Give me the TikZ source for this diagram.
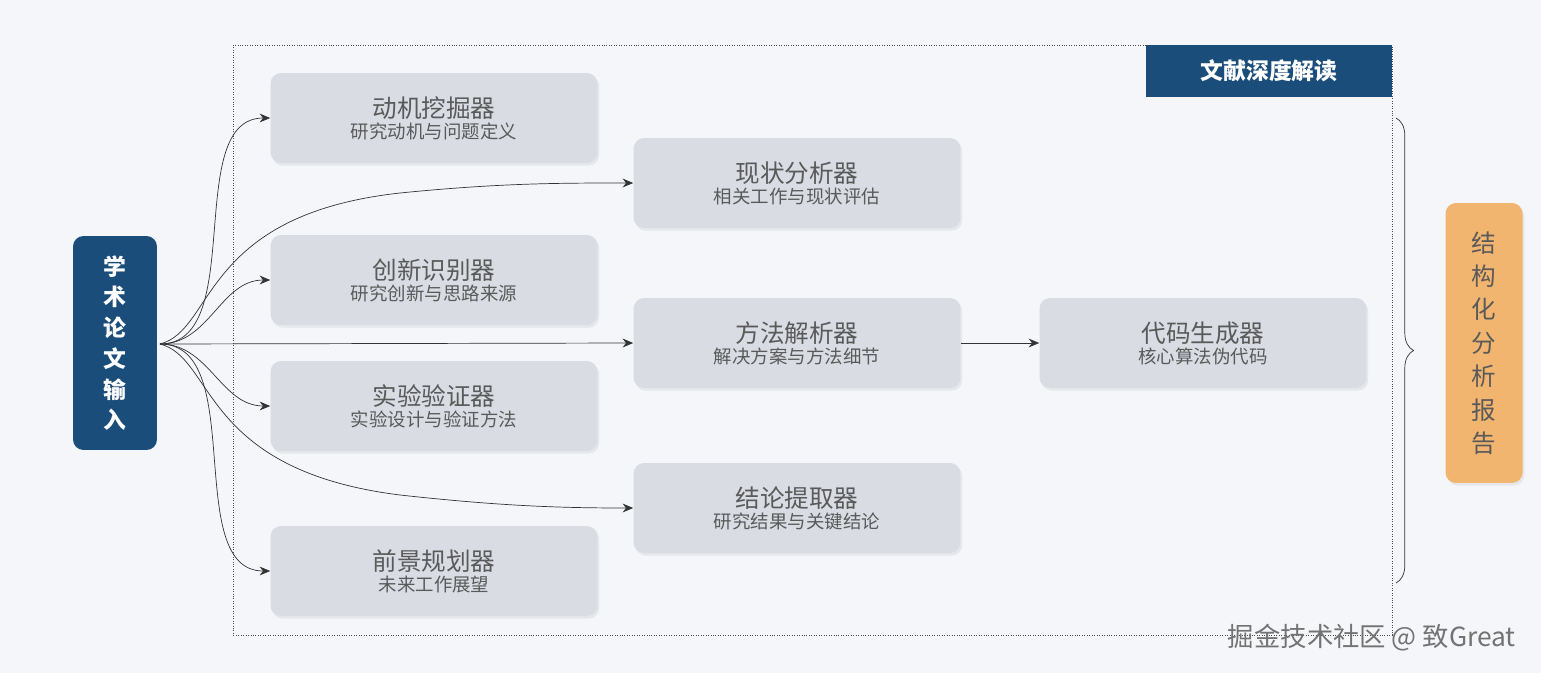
\documentclass[tikz,border=0pt]{standalone}
\usepackage{fontspec}
\setmainfont{Noto Sans CJK SC}
\usetikzlibrary{positioning}
\usetikzlibrary{arrows.meta}
\usetikzlibrary{decorations.pathreplacing}
\usetikzlibrary{shadows}
\definecolor{bgc}{HTML}{F5F6FA}
\definecolor{navy}{HTML}{1B4D7A}
\definecolor{boxc}{HTML}{D9DCE3}
\definecolor{txtc}{HTML}{5A5A5A}
\definecolor{orng}{HTML}{F2B56F}

\begin{document}
\begin{tikzpicture}[x=0.02cm, y=-0.02cm]
    \tikzstyle{module} = [fill=boxc, rounded corners=6pt, minimum width=6.54cm, minimum height=1.8cm, align=center, text=txtc, drop shadow={opacity=0.12, shadow xshift=1pt, shadow yshift=-1.5pt}];
    \tikzstyle{flow} = [thin, black!80, -{Stealth[length=6pt, width=5pt]}];

    \fill[bgc] (0,0) rectangle (1541,673);
    \useasboundingbox (0,0) rectangle (1541,673);
    \draw[densely dotted, black!70] (233,45) rectangle (1392,635);

    \node[fill=navy, minimum width=4.92cm, minimum height=1.04cm, text=white, font=\bfseries\fontsize{13}{15}\selectfont] (title) at (1269,71) {文献深度解读};

    \node[fill=navy, rounded corners=6pt, minimum width=1.68cm, minimum height=4.28cm, text=white, font=\bfseries\fontsize{13}{17.5}\selectfont, align=center] (input) at (115,343) {学\\术\\论\\文\\输\\入};

    \newcommand{\modtext}[2]{{\fontsize{14}{17}\selectfont #1}\\[0pt]{\fontsize{10.5}{12}\selectfont #2}}
    \node[module] (motive)   at (434,118) {\modtext{动机挖掘器}{研究动机与问题定义}};
    \node[module] (innov)    at (434,280) {\modtext{创新识别器}{研究创新与思路来源}};
    \node[module] (experim)  at (434,406) {\modtext{实验验证器}{实验设计与验证方法}};
    \node[module] (future)   at (434,571) {\modtext{前景规划器}{未来工作展望}};
    \node[module] (status)   at (797,183) {\modtext{现状分析器}{相关工作与现状评估}};
    \node[module] (method)   at (797,343) {\modtext{方法解析器}{解决方案与方法细节}};
    \node[module] (conclude) at (797,508) {\modtext{结论提取器}{研究结果与关键结论}};
    \node[module] (codegen)  at (1203,343) {\modtext{代码生成器}{核心算法伪代码}};

    \node[fill=orng, rounded corners=6pt, minimum width=1.54cm, minimum height=5.6cm, text=txtc, font=\fontsize{14}{19}\selectfont, align=center, drop shadow={opacity=0.12, shadow xshift=1pt, shadow yshift=-1.5pt}] (report) at (1484,343) {结\\构\\化\\分\\析\\报\\告};

    \coordinate (src) at (160,344);
    \draw[flow] (src) to[out=0, in=180, looseness=0.9] (motive.west);
    \draw[flow] (src) .. controls (215,330) and (200,215) .. (400,193) .. controls (500,183) and (560,183) .. (status.west);
    \draw[flow] (src) to[out=0, in=180] (innov.west);
    \draw[flow] (src) -- (method.west);
    \draw[flow] (src) to[out=0, in=180] (experim.west);
    \draw[flow] (src) .. controls (215,358) and (200,470) .. (400,495) .. controls (500,506) and (560,508) .. (conclude.west);
    \draw[flow] (src) to[out=0, in=180, looseness=0.9] (future.west);
    \draw[flow] (method) -- (codegen);

    \draw[decorate, decoration={brace, amplitude=10pt}, black!80] (1396,118) -- (1396,583);

    \node[text=black!55, font=\fontsize{15}{18}\selectfont, anchor=east] (mark) at (1522,638) {掘金技术社区 @ 致Great};
\end{tikzpicture}
\end{document}
